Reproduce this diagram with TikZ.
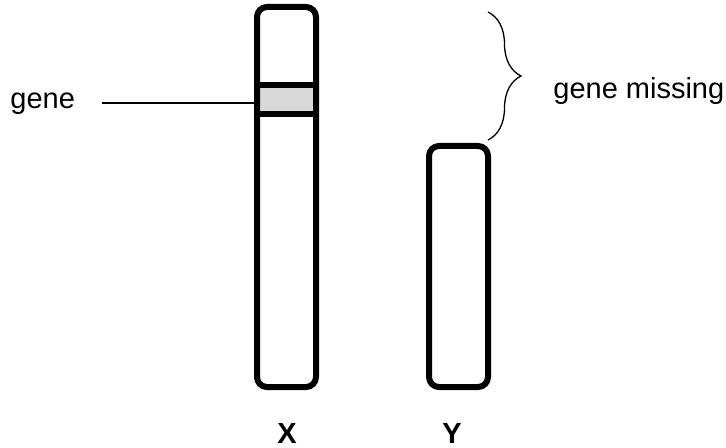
\documentclass[tikz,border=0pt]{standalone}
\usepackage{fontspec}
\setmainfont{Liberation Sans}
\usepackage{tikz}
\usetikzlibrary{positioning,decorations.pathreplacing}

\begin{document}
\begin{tikzpicture}[x=0.5pt, y=-0.5pt,
    every node/.style={font=\fontsize{14.5}{17}\selectfont, inner sep=0pt},
    chromo/.style={draw, line width=3pt, rounded corners=5pt, minimum width=29.5pt, outer sep=0pt},
    curly/.style={decorate, decoration={brace, amplitude=16.5pt}, line width=0.65pt},
    pointer/.style={line width=0.85pt}]
            \useasboundingbox (0,0) rectangle (726,448);
            % chromosomes
            \fill[black!15] (257,87) rectangle (316,112);
            \node[chromo, minimum height=190pt] (chrX) at (286.5,197) {};
            \node[chromo, minimum height=120.5pt] (chrY) at (458.5,266.5) {};
            \draw[line width=3pt] (257,85.5) -- (316,85.5) (257,114) -- (316,114);
            % labels
            \node[anchor=base west] (gene) at (10,109) {gene};
            \coordinate (genept) at (102,103);
            \draw[pointer] (genept) -- (genept -| chrX.west);
            \coordinate (btop) at (488,12);
            \coordinate (bbot) at (488,140);
            \draw[curly] (btop) -- (bbot);
            \node[anchor=base west] (missing) at (553,99) {gene missing};
            \node[anchor=base, font=\fontsize{14.5}{17}\selectfont\bfseries] (lblX) at (287,443) {X};
            \node[anchor=base, font=\fontsize{14.5}{17}\selectfont\bfseries] (lblY) at (452,443) {Y};
        \end{tikzpicture}
\end{document}
